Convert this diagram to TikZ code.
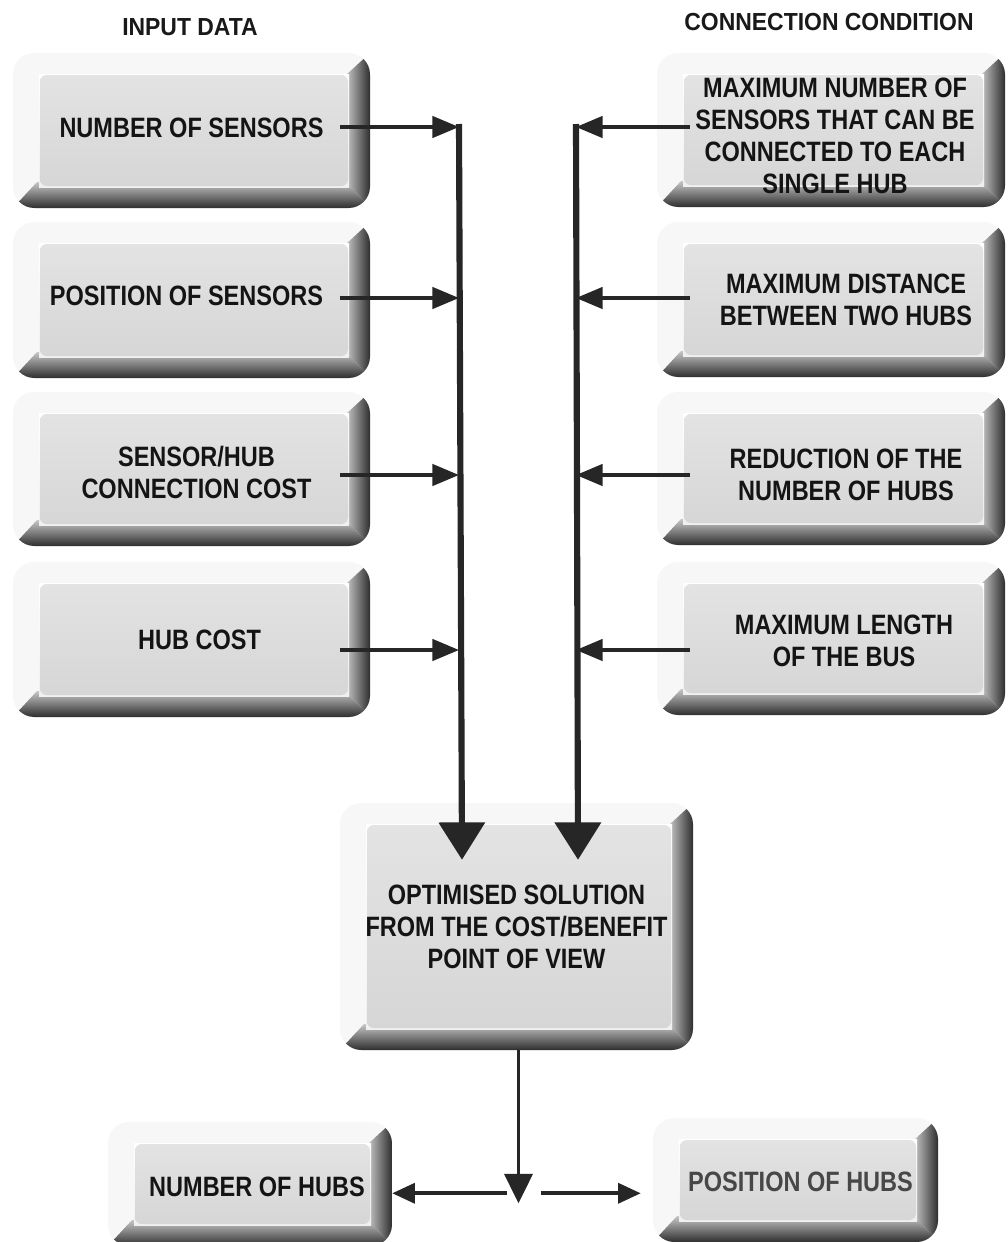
\documentclass[tikz,border=0pt]{standalone}
\usepackage{fontspec}
\setmainfont{Liberation Sans}[FakeStretch=0.84]
\newfontfamily\headfont{Liberation Sans}[FakeStretch=0.93]
\usetikzlibrary{arrows.meta,calc}

% Bevelled "button" box: light top/left edges, dark bottom/right edges,
% flat grey face, plus a named node covering the whole box.
% #1 name, #2 x0, #3 y0, #4 x1, #5 y1 (y measured downwards),
% #6 text offset (dx,dy), #7 extra node options, #8 text
\newcommand\bevelbox[8]{%
  \begin{scope}
    \clip[rounded corners=16] (#2,-#3) rectangle (#4,-#5);
    \fill[black!3] (#2,-#3) rectangle (#4,-#5);
    \shade[top color=black!22, bottom color=black!82]
      (#2,-#5) -- ({#2+24},{-#5+26}) -- ({#4-24},{-#5+26}) -- (#4,-#5) -- cycle;
    \shade[left color=black!22, right color=black!82]
      ({#4-24},{-#3-22}) -- (#4,-#3) -- (#4,-#5) -- ({#4-24},{-#5+26}) -- cycle;
    \shade[top color=white, bottom color=black!6]
      ({#2+26},{-#3-21}) rectangle ({#4-21},{-#5+21});
    \shade[rounded corners=5, top color=black!11, bottom color=black!16]
      ({#2+27},{-#3-22}) rectangle ({#4-22},{-#5+22});
  \end{scope}
  \node[boxtext, minimum width={0.75pt*(#4-#2)}, minimum height={0.75pt*(#5-#3)},
        shift={#6}, #7]
    (#1) at ({(#2+#4)/2},{-(#3+#5)/2}) {#8};
}

\tikzset{
  boxtext/.style={align=center, inner sep=0pt, text=black!92,
    font=\bfseries\fontsize{21}{24}\selectfont},
  heading/.style={inner sep=0pt, text=black!90,
    font=\headfont\bfseries\fontsize{18.5}{20}\selectfont},
  vbus/.style={line width=4.6pt, draw=black!85,
    -{Triangle[length=28pt,width=34pt]}},
  harrow/.style={line width=2.7pt, draw=black!85,
    -{Triangle[length=20pt,width=16pt]}},
  downarrow/.style={line width=2.7pt, draw=black!85,
    -{Triangle[length=22pt,width=21pt]}},
  outarrow/.style={line width=2.7pt, draw=black!85,
    -{Triangle[length=17pt,width=15pt]}},
}

\begin{document}
\begin{tikzpicture}[x=0.75pt, y=0.75pt]
  \useasboundingbox (0,0) rectangle (1007,-1242);
  \fill[white] (0,0) rectangle (1007,-1242);

  % column headings
  \node[heading] (headIn)  at (190,-27) {INPUT DATA};
  \node[heading] (headCon) at (829,-22) {CONNECTION CONDITION};

  % input data
  \bevelbox{inA}{13}{53}{370}{208}{(0,3)}{}{NUMBER OF SENSORS}
  \bevelbox{inB}{13}{222}{370}{378}{(-5,4)}{}{POSITION OF SENSORS}
  \bevelbox{inC}{13}{392}{370}{546}{(5,-3)}{}{SENSOR/HUB\\CONNECTION COST}
  \bevelbox{inD}{13}{562}{370}{717}{(8,0)}{}{HUB COST}

  % connection conditions
  \bevelbox{coA}{657}{53}{1005}{207}{(4,-6)}{}{MAXIMUM NUMBER OF\\SENSORS THAT CAN BE\\CONNECTED TO EACH\\SINGLE HUB}
  \bevelbox{coB}{657}{222}{1005}{377}{(15,0)}{}{MAXIMUM DISTANCE\\BETWEEN TWO HUBS}
  \bevelbox{coC}{657}{392}{1005}{545}{(15,-6)}{}{REDUCTION OF THE\\NUMBER OF HUBS}
  \bevelbox{coD}{657}{562}{1005}{715}{(13,-2)}{}{MAXIMUM LENGTH\\OF THE BUS}

  % result
  \bevelbox{solution}{340}{803}{693}{1050}{(0,0)}{}{OPTIMISED SOLUTION\\FROM THE COST/BENEFIT\\POINT OF VIEW}

  % outputs
  \bevelbox{hubsN}{108}{1122}{392}{1246}{(7,-3)}{}{NUMBER OF HUBS}
  \bevelbox{hubsP}{653}{1118}{938}{1242}{(5,-2)}{text=black!72}{POSITION OF HUBS}

  % collecting buses
  \coordinate (busL) at (459,-124);
  \coordinate (busR) at (576,-124);

  \draw[vbus] (busL) -- ($(busL |- solution.north)+(3,-57)$);
  \draw[vbus] (busR) -- ($(busR |- solution.north)+(2,-57)$);

  % inputs feed the left bus (offsets undo each text shift)
  \draw[harrow] ($(inA.east)+(-30,0.5)$) -- ($(inA.east -| busL)+(0,0.5)$);
  \draw[harrow] ($(inB.east)+(-25,-2)$) -- ($(inB.east -| busL)+(0,-2)$);
  \draw[harrow] ($(inC.east)+(-35,-3)$) -- ($(inC.east -| busL)+(0,-3)$);
  \draw[harrow] ($(inD.east)+(-38,-10.5)$) -- ($(inD.east -| busL)+(0,-10.5)$);

  % conditions feed the right bus
  \draw[harrow] ($(coA.west)+(29,9)$) -- ($(coA.west -| busR)+(0,9)$);
  \draw[harrow] ($(coB.west)+(18,1.5)$) -- ($(coB.west -| busR)+(0,1.5)$);
  \draw[harrow] ($(coC.west)+(18,-0.5)$) -- ($(coC.west -| busR)+(0,-0.5)$);
  \draw[harrow] ($(coD.west)+(20,-9.5)$) -- ($(coD.west -| busR)+(0,-9.5)$);

  % result splits into the two outputs
  \coordinate (split) at ($(solution.south)+(2,-143)$);
  \draw[downarrow] ($(solution.south)+(2,0)$) -- ($(split)+(0,-10)$);
  \draw[outarrow] ($(split)+(-12,0)$) -- ($(split -| hubsN.east)+(-7,0)$);
  \draw[outarrow] ($(split)+(22,0)$) -- ($(split -| hubsP.west)+(-17,0)$);
\end{tikzpicture}
\end{document}
